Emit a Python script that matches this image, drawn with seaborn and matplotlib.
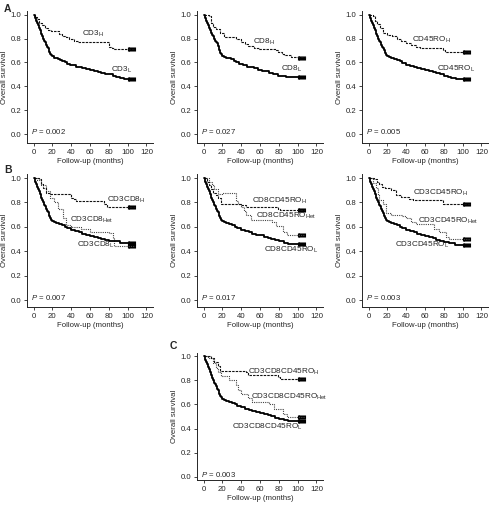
import numpy as np
import pandas as pd
import matplotlib
matplotlib.use("Agg")
import matplotlib.pyplot as plt
import seaborn as sns

# ---------------- data ----------------
# Panel A1: CD3
cd3_L_t = [0, 2, 3, 4, 5, 6, 7, 8, 9, 10, 11, 12, 13, 14, 15, 16, 17, 18, 20, 22, 24, 26, 28, 30, 33, 36, 39, 42, 45, 48, 52, 56, 60, 64, 68, 72, 76, 80, 84, 88, 92, 96, 108]
cd3_L_s = [1.0, 0.97, 0.95, 0.93, 0.91, 0.89, 0.87, 0.84, 0.82, 0.80, 0.78, 0.77, 0.75, 0.73, 0.72, 0.69, 0.67, 0.66, 0.65, 0.64, 0.635, 0.63, 0.62, 0.61, 0.60, 0.59, 0.58, 0.575, 0.565, 0.56, 0.55, 0.545, 0.54, 0.53, 0.52, 0.515, 0.505, 0.50, 0.49, 0.48, 0.47, 0.46, 0.46]
cd3_H_t = [0, 2, 4, 6, 9, 12, 15, 19, 27, 30, 34, 38, 43, 47, 80, 83, 86, 108]
cd3_H_s = [1.0, 0.98, 0.96, 0.93, 0.91, 0.89, 0.87, 0.86, 0.84, 0.82, 0.81, 0.80, 0.78, 0.77, 0.73, 0.72, 0.71, 0.71]

# Panel A2: CD8
cd8_L_t = [0, 2, 3, 4, 5, 6, 7, 8, 9, 10, 11, 12, 13, 14, 15, 16, 17, 18, 20, 22, 24, 26, 29, 32, 35, 38, 42, 46, 50, 54, 58, 62, 66, 70, 74, 79, 84, 88, 92, 108]
cd8_L_s = [1.0, 0.97, 0.95, 0.93, 0.91, 0.89, 0.87, 0.85, 0.83, 0.82, 0.80, 0.78, 0.77, 0.765, 0.74, 0.70, 0.68, 0.67, 0.655, 0.645, 0.64, 0.635, 0.625, 0.61, 0.60, 0.59, 0.575, 0.565, 0.56, 0.55, 0.54, 0.53, 0.525, 0.515, 0.505, 0.49, 0.485, 0.48, 0.478, 0.478]
cd8_H_t = [0, 6, 8, 10, 13, 17, 22, 27, 34, 40, 44, 47, 54, 59, 77, 79, 83, 86, 93, 108]
cd8_H_s = [1.0, 0.99, 0.93, 0.90, 0.876, 0.85, 0.815, 0.81, 0.80, 0.77, 0.755, 0.74, 0.72, 0.71, 0.70, 0.685, 0.67, 0.66, 0.645, 0.64]

# Panel A3: CD45RO
cd45_L_t = [0, 2, 3, 4, 5, 6, 7, 8, 9, 10, 11, 12, 13, 14, 15, 16, 17, 18, 20, 22, 24, 27, 30, 33, 36, 40, 44, 48, 52, 56, 60, 64, 68, 72, 76, 80, 84, 88, 93, 108]
cd45_L_s = [1.0, 0.97, 0.95, 0.93, 0.91, 0.89, 0.87, 0.84, 0.82, 0.80, 0.78, 0.77, 0.75, 0.73, 0.72, 0.70, 0.68, 0.665, 0.655, 0.645, 0.64, 0.63, 0.62, 0.61, 0.595, 0.58, 0.57, 0.565, 0.555, 0.545, 0.54, 0.53, 0.52, 0.51, 0.50, 0.49, 0.48, 0.47, 0.46, 0.46]
cd45_H_t = [0, 5, 7, 9, 12, 15, 20, 25, 30, 35, 40, 45, 50, 55, 79, 81, 108]
cd45_H_s = [1.0, 0.99, 0.95, 0.92, 0.89, 0.85, 0.83, 0.82, 0.80, 0.78, 0.76, 0.75, 0.73, 0.72, 0.70, 0.69, 0.69]

# Panel B1: CD3CD8
b1_L_t = [0, 2, 3, 4, 5, 6, 7, 8, 9, 10, 11, 12, 13, 14, 15, 16, 17, 18, 20, 22, 24, 27, 30, 33, 36, 40, 44, 48, 52, 56, 60, 64, 68, 72, 76, 80, 92, 108]
b1_L_s = [1.0, 0.97, 0.95, 0.93, 0.91, 0.89, 0.87, 0.84, 0.82, 0.80, 0.78, 0.77, 0.75, 0.73, 0.72, 0.69, 0.67, 0.66, 0.645, 0.64, 0.635, 0.625, 0.615, 0.60, 0.59, 0.575, 0.565, 0.555, 0.545, 0.535, 0.525, 0.52, 0.51, 0.50, 0.49, 0.48, 0.47, 0.47]
b1_H_t = [0, 6, 8, 10, 13, 17, 40, 43, 45, 75, 78, 108]
b1_H_s = [1.0, 0.99, 0.95, 0.92, 0.88, 0.865, 0.84, 0.83, 0.815, 0.79, 0.765, 0.765]
b1_Het_t = [0, 4, 8, 13, 17, 22, 26, 31, 35, 40, 50, 60, 80, 84, 86, 108]
b1_Het_s = [1.0, 0.98, 0.945, 0.89, 0.835, 0.80, 0.75, 0.67, 0.616, 0.60, 0.58, 0.56, 0.548, 0.507, 0.445, 0.445]

# Panel B2: CD8CD45RO
b2_L_t = [0, 2, 3, 4, 5, 6, 7, 8, 9, 10, 11, 12, 13, 14, 15, 16, 17, 18, 20, 22, 24, 27, 30, 33, 36, 40, 44, 48, 52, 56, 60, 64, 68, 72, 76, 80, 85, 90, 108]
b2_L_s = [1.0, 0.97, 0.95, 0.93, 0.91, 0.89, 0.87, 0.84, 0.82, 0.80, 0.78, 0.77, 0.75, 0.73, 0.72, 0.69, 0.67, 0.66, 0.645, 0.64, 0.635, 0.625, 0.615, 0.60, 0.59, 0.575, 0.565, 0.555, 0.545, 0.535, 0.53, 0.52, 0.51, 0.50, 0.49, 0.48, 0.47, 0.46, 0.46]
b2_H_t = [0, 4, 6, 8, 10, 13, 15, 19, 40, 45, 79, 81, 108]
b2_H_s = [1.0, 0.97, 0.94, 0.91, 0.88, 0.86, 0.84, 0.79, 0.78, 0.765, 0.745, 0.735, 0.735]
b2_Het_t = [0, 6, 9, 11, 15, 20, 34, 37, 40, 43, 45, 50, 73, 77, 84, 89, 108]
b2_Het_s = [1.0, 0.97, 0.94, 0.91, 0.87, 0.88, 0.81, 0.79, 0.76, 0.73, 0.70, 0.66, 0.64, 0.605, 0.56, 0.53, 0.53]

# Panel B3: CD3CD45RO
b3_L_t = [0, 2, 3, 4, 5, 6, 7, 8, 9, 10, 11, 12, 13, 14, 15, 16, 17, 18, 20, 22, 24, 27, 30, 33, 36, 40, 44, 48, 52, 56, 60, 64, 68, 72, 76, 80, 85, 92, 108]
b3_L_s = [1.0, 0.97, 0.95, 0.93, 0.91, 0.89, 0.87, 0.84, 0.82, 0.80, 0.78, 0.77, 0.75, 0.73, 0.71, 0.69, 0.67, 0.66, 0.645, 0.64, 0.635, 0.625, 0.615, 0.60, 0.59, 0.575, 0.565, 0.555, 0.545, 0.535, 0.525, 0.515, 0.505, 0.495, 0.485, 0.475, 0.465, 0.455, 0.455]
b3_H_t = [0, 6, 9, 11, 14, 17, 24, 29, 34, 43, 47, 79, 108]
b3_H_s = [1.0, 0.99, 0.97, 0.955, 0.93, 0.915, 0.90, 0.86, 0.845, 0.83, 0.82, 0.785, 0.785]
b3_Het_t = [0, 5, 8, 10, 11, 15, 18, 24, 36, 40, 45, 50, 70, 75, 82, 86, 108]
b3_Het_s = [1.0, 0.96, 0.915, 0.86, 0.82, 0.79, 0.71, 0.70, 0.685, 0.67, 0.64, 0.625, 0.583, 0.555, 0.515, 0.50, 0.50]

# Panel C: CD3CD8CD45RO
c_L_t = [0, 2, 3, 4, 5, 6, 7, 8, 9, 10, 11, 12, 13, 14, 15, 16, 17, 18, 20, 22, 24, 27, 30, 33, 36, 40, 44, 48, 52, 56, 60, 64, 68, 72, 76, 80, 85, 90, 108]
c_L_s = [1.0, 0.97, 0.95, 0.93, 0.91, 0.89, 0.87, 0.84, 0.82, 0.80, 0.78, 0.77, 0.75, 0.73, 0.72, 0.69, 0.67, 0.66, 0.645, 0.635, 0.63, 0.62, 0.61, 0.60, 0.59, 0.575, 0.565, 0.555, 0.545, 0.535, 0.53, 0.52, 0.51, 0.50, 0.49, 0.48, 0.47, 0.46, 0.46]
c_H_t = [0, 8, 11, 15, 17, 45, 47, 79, 81, 108]
c_H_s = [1.0, 0.98, 0.95, 0.92, 0.88, 0.87, 0.845, 0.83, 0.81, 0.81]
c_Het_t = [0, 5, 10, 13, 15, 19, 27, 34, 37, 40, 47, 52, 70, 75, 84, 89, 108]
c_Het_s = [1.0, 0.98, 0.94, 0.90, 0.87, 0.835, 0.80, 0.76, 0.72, 0.69, 0.65, 0.62, 0.60, 0.56, 0.52, 0.495, 0.495]

censor_tail = [100, 101, 102, 103, 104, 105, 106, 107, 108]

xticks = [0, 20, 40, 60, 80, 100, 120]
yticks = [0.0, 0.2, 0.4, 0.6, 0.8, 1.0]

p_values = ["0.002", "0.027", "0.005", "0.007", "0.017", "0.003", "0.003"]

# ---------------- styling ----------------
sns.set_theme(style="ticks")
plt.rcParams["font.family"] = ["Liberation Sans", "DejaVu Sans"]
plt.rcParams["mathtext.fontset"] = "custom"
plt.rcParams["mathtext.rm"] = "Liberation Sans"
plt.rcParams["mathtext.it"] = "Liberation Sans:italic"
plt.rcParams["axes.linewidth"] = 0.7

FS = 5.6
LFS = 5.9
W_PX, H_PX = 490, 507
fig = plt.figure(figsize=(W_PX / 100, H_PX / 100), dpi=100)

STY = {
    "L": dict(color="black", lw=1.3, ls="-"),
    "H": dict(color="#111111", lw=0.8, ls=(0, (2.2, 1.0))),
    "Het": dict(color="#444444", lw=0.8, ls=(0, (1.0, 1.0))),
}


def add_ax(lx, yt, yb, w=126):
    return fig.add_axes([lx / W_PX, 1 - yb / H_PX, w / W_PX, (yb - yt) / H_PX])


def draw_curve(ax, t, s, kind):
    df = pd.DataFrame({"t": t, "s": s})
    st = STY[kind]
    sns.lineplot(data=df, x="t", y="s", ax=ax, drawstyle="steps-post",
                 estimator=None, sort=False, color=st["color"], lw=st["lw"],
                 linestyle=st["ls"], legend=False)
    last = s[-1]
    sns.scatterplot(x=censor_tail, y=[last] * len(censor_tail), ax=ax,
                    marker="|", s=7, color="black", linewidth=0.8, legend=False)


def setup(ax, ylim, pval):
    ax.set_xlim(-7, 127)
    ax.set_ylim(*ylim)
    ax.set_xticks(xticks)
    ax.set_yticks(yticks)
    ax.set_yticklabels([f"{v:.1f}" for v in yticks])
    ax.tick_params(labelsize=FS, length=2.5, width=0.6, pad=1.5, direction="out")
    ax.set_xlabel("Follow-up (months)", fontsize=FS, labelpad=1.5)
    ax.set_ylabel("Overall survival", fontsize=FS, labelpad=2)
    sns.despine(ax=ax)
    ax.text(0.03, 0.02, r"$\mathit{P}$ = " + pval, fontsize=FS,
            transform=ax.get_yaxis_transform(), ha="left", va="center")


def label(ax, x, y, base, sub):
    ax.text(x, y, base + r"$_{\mathregular{" + sub + "}}$", fontsize=LFS,
            ha="left", va="center")


cols = [27, 197, 362]
rowA = (11, 143)
rowB = (174, 307)
rowC = (353, 480)
ylimA = (-0.073, 1.03)
ylimB = (-0.057, 1.033)
ylimC = (-0.025, 1.025)

# ---- Row A ----
ax = add_ax(cols[0], *rowA)
draw_curve(ax, cd3_H_t, cd3_H_s, "H")
draw_curve(ax, cd3_L_t, cd3_L_s, "L")
setup(ax, ylimA, p_values[0])
label(ax, 52, 0.835, "CD3", "H")
label(ax, 82, 0.535, "CD3", "L")

ax = add_ax(cols[1], *rowA)
draw_curve(ax, cd8_H_t, cd8_H_s, "H")
draw_curve(ax, cd8_L_t, cd8_L_s, "L")
setup(ax, ylimA, p_values[1])
label(ax, 53, 0.77, "CD8", "H")
label(ax, 82, 0.545, "CD8", "L")

ax = add_ax(cols[2], *rowA)
draw_curve(ax, cd45_H_t, cd45_H_s, "H")
draw_curve(ax, cd45_L_t, cd45_L_s, "L")
setup(ax, ylimA, p_values[2])
label(ax, 46, 0.79, "CD45RO", "H")
label(ax, 73, 0.55, "CD45RO", "L")

# ---- Row B ----
ax = add_ax(cols[0], *rowB)
draw_curve(ax, b1_Het_t, b1_Het_s, "Het")
draw_curve(ax, b1_H_t, b1_H_s, "H")
draw_curve(ax, b1_L_t, b1_L_s, "L")
setup(ax, ylimB, p_values[3])
label(ax, 78, 0.82, "CD3CD8", "H")
label(ax, 39, 0.655, "CD3CD8", "Het")
label(ax, 46, 0.45, "CD3CD8", "L")

ax = add_ax(cols[1], *rowB)
draw_curve(ax, b2_Het_t, b2_Het_s, "Het")
draw_curve(ax, b2_H_t, b2_H_s, "H")
draw_curve(ax, b2_L_t, b2_L_s, "L")
setup(ax, ylimB, p_values[4])
label(ax, 51, 0.81, "CD8CD45RO", "H")
label(ax, 56, 0.69, "CD8CD45RO", "Het")
label(ax, 64, 0.41, "CD8CD45RO", "L")

ax = add_ax(cols[2], *rowB)
draw_curve(ax, b3_Het_t, b3_Het_s, "Het")
draw_curve(ax, b3_H_t, b3_H_s, "H")
draw_curve(ax, b3_L_t, b3_L_s, "L")
setup(ax, ylimB, p_values[5])
label(ax, 47, 0.875, "CD3CD45RO", "H")
label(ax, 53, 0.65, "CD3CD45RO", "Het")
label(ax, 28, 0.45, "CD3CD45RO", "L")

# ---- Row C ----
ax = add_ax(cols[1], *rowC)
draw_curve(ax, c_Het_t, c_Het_s, "Het")
draw_curve(ax, c_H_t, c_H_s, "H")
draw_curve(ax, c_L_t, c_L_s, "L")
setup(ax, ylimC, p_values[6])
label(ax, 47, 0.87, "CD3CD8CD45RO", "H")
label(ax, 50, 0.66, "CD3CD8CD45RO", "Het")
label(ax, 30, 0.41, "CD3CD8CD45RO", "L")

# panel letters
fig.text(4 / W_PX, 1 - 9 / H_PX, "A", fontsize=7.5, fontweight="bold", ha="left", va="center")
fig.text(4 / W_PX, 1 - 170 / H_PX, "B", fontsize=7.5, fontweight="bold", ha="left", va="center")
fig.text(170 / W_PX, 1 - 346 / H_PX, "C", fontsize=7.5, fontweight="bold", ha="left", va="center")

fig.savefig("out.png", dpi=100)
